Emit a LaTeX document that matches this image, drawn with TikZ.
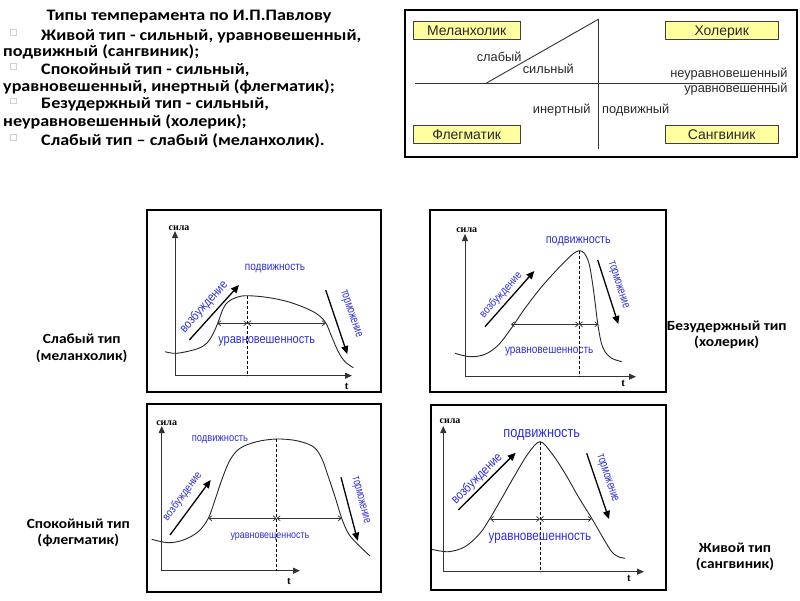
\documentclass[tikz,border=0pt]{standalone}
\usepackage{fontspec}
\setmainfont{Carlito}
\newfontfamily\calw{Carlito}[FakeStretch=1.13]
\newfontfamily\cals{Carlito}[FakeStretch=1.1]
\newfontfamily\arialf{Liberation Sans}
\newfontfamily\narrowf{Liberation Sans}[FakeStretch=0.85]
\newfontfamily\narrowt{Liberation Sans}[FakeStretch=0.7]
\newfontfamily\timesf{Liberation Serif}
\usetikzlibrary{arrows.meta}
\definecolor{lblue}{RGB}{45,45,220}
\definecolor{boxyellow}{RGB}{255,255,160}
\definecolor{lgray}{RGB}{40,40,40}
\tikzset{
  txt/.style={inner sep=0pt, anchor=base west, font=\calw\bfseries\fontsize{16}{18}\selectfont},
  bul/.style={draw=black!18, line width=0.6pt},
  side/.style={inner sep=0pt, align=center, font=\cals\bfseries\fontsize{14}{16.5}\selectfont},
  frame/.style={draw=black, line width=2pt},
  ybox/.style={draw=black!75, fill=boxyellow, line width=0.8pt, inner sep=0pt,
     text height=10pt, text depth=0pt, font=\arialf\fontsize{14}{16}\selectfont, text=lgray},
  axlab/.style={inner sep=0pt, font=\arialf\fontsize{12.8}{15}\selectfont, text=lgray},
  schema/.style={draw=black!80, line width=0.9pt},
  axis/.style={draw=black!80, line width=1pt, -{Triangle[length=7pt,width=6pt]}},
  curve/.style={draw=black!85, line width=0.9pt},
  dashline/.style={draw=black, line width=0.9pt, dash pattern=on 3pt off 2pt},
  dbl/.style={draw=black!80, line width=0.7pt, {Straight Barb[length=3pt,width=5pt]}-{Straight Barb[length=3pt,width=5pt]}},
  bigarr/.style={draw=black, line width=1.3pt, -{Triangle[length=8pt,width=7pt]}},
  blab/.style={inner sep=0pt, text=lblue},
  sila/.style={inner sep=0pt, font=\timesf\bfseries\fontsize{10}{10}\selectfont},
  tlab/.style={inner sep=0pt, font=\timesf\bfseries\fontsize{11}{11}\selectfont},
}
\begin{document}
\begin{tikzpicture}[x=1pt,y=-1pt]
\useasboundingbox (0,0) rectangle (800,600);

% ---------- top-left text ----------
\node[inner sep=0pt, anchor=base, font=\calw\bfseries\fontsize{16}{18}\selectfont] (title) at (189,20.7) {Типы темперамента по И.П.Павлову};
\node[txt] (l1) at (41,40) {Живой тип - сильный, уравновешенный,};
\node[txt] (l2) at (3,56.7) {подвижный (сангвиник);};
\node[txt] (l3) at (41,74) {Спокойный тип - сильный,};
\node[txt] (l4) at (3,91.7) {уравновешенный, инертный (флегматик);};
\node[txt] (l5) at (41,108.3) {Безудержный тип - сильный,};
\node[txt] (l6) at (3,126) {неуравновешенный (холерик);};
\node[txt] (l7) at (41,145) {Слабый тип – слабый (меланхолик).};
\foreach \b in {40,74,108.3,145}{
  \draw[bul] (10,\b-10.5) rectangle (16,\b-5);
}

% ---------- top-right scheme ----------
\draw[frame] (405,10) rectangle (797,157);
\node[ybox, minimum width=106.7pt, minimum height=17.6pt] (mel) at (466.7,30.5) {Меланхолик};
\node[ybox, minimum width=113.3pt, minimum height=17.6pt] (hol) at (721.7,30.5) {Холерик};
\node[ybox, minimum width=106.7pt, minimum height=18.3pt] (fleg) at (466.7,134.2) {Флегматик};
\node[ybox, minimum width=113.3pt, minimum height=18.3pt] (sang) at (721.7,134.2) {Сангвиник};
\coordinate (hl) at (415,83.3);
\coordinate (hr) at (776.7,83.3);
\coordinate (vt) at (598.3,19.3);
\coordinate (vb) at (598.3,149);
\coordinate (dg) at (486,83.3);
\draw[schema] (hl) -- (hr);
\draw[schema] (vt) -- (vb);
\draw[schema] (dg) -- (vt);
\node[axlab, anchor=east] (slab) at (521.7,57.3) {слабый};
\node[axlab] (silk) at (548.3,69) {сильный};
\node[axlab, anchor=east] (neur) at (787.7,74) {неуравновешенный};
\node[axlab, anchor=east] (urav) at (787.7,89) {уравновешенный};
\node[axlab] (inert) at (561.7,110) {инертный};
\node[axlab] (podv) at (635.7,110) {подвижный};

% ---------- side labels ----------
\node[side] (s1) at (81.7,348) {Слабый тип\\(меланхолик)};
\node[side] (s2) at (78.3,533) {Спокойный тип\\(флегматик)};
\node[side] (s3) at (726.7,335) {Безудержный тип\\(холерик)};
\node[side] (s4) at (735,556.7) {Живой тип\\(сангвиник)};

% ---------- graph 1 (weak) ----------
\draw[frame] (147,210) rectangle (381,391.5);
\coordinate (a1o) at (175,375.7);
\draw[axis] (a1o) -- (175,231);
\draw[axis] (a1o) -- (352,375.7);
\node[sila] (g1s) at (179,228) {сила};
\node[tlab] (g1t) at (346.7,386.7) {t};
\draw[curve] plot[smooth, tension=0.55] coordinates {(165,351.7) (176.7,353.3) (196.7,349) (206.7,343.3) (213.3,333.3) (218.3,321.7) (223.3,308.3) (228.3,301.7) (236.7,297.3) (246.7,295.7) (266.7,297.3) (290,302.3) (313.3,311.7) (325,321.7) (331.7,336.7) (338.3,351.7) (345,361.7) (353.3,367.7)};
\draw[dashline] (247.3,295.7) -- (247.3,375.7);
\draw[dbl] (217.3,323.3) -- (247.3,323.3);
\draw[dbl] (247.3,323.3) -- (325.7,323.3);
\draw[bigarr] (189.3,340) -- (239,285);
\draw[bigarr] (325.7,290) -- (347.3,354);
\node[blab, font=\narrowf\fontsize{11.8}{14}\selectfont] (g1p) at (275,268.3) {подвижность};
\node[blab, font=\narrowf\fontsize{12.9}{14}\selectfont] (g1u) at (266.7,341.7) {уравновешенность};
\node[blab, font=\narrowf\fontsize{12.6}{14}\selectfont, rotate=48] (g1v) at (204,307) {возбуждение};
\node[blab, font=\narrowt\fontsize{12.4}{14}\selectfont, rotate=-71.4] (g1m) at (350.7,314) {торможение};

% ---------- graph 2 (choleric) ----------
\draw[frame] (430,210) rectangle (666,391.5);
\coordinate (a2o) at (465,376.7);
\draw[axis] (a2o) -- (465,234);
\draw[axis] (a2o) -- (636,376.7);
\node[sila] (g2s) at (466.7,230) {сила};
\node[tlab] (g2t) at (623.3,383.3) {t};
\draw[curve] plot[smooth, tension=0.55] coordinates {(455,353.3) (470,356.7) (485,354.3) (498.3,345) (511.7,327.7) (525,308.3) (541.7,286.7) (558.3,268.3) (571.7,255) (579,250.7) (584.3,253.3) (589,263.3) (592.3,281.7) (595,301.7) (597.7,323.3) (601,341.7) (605,351.7) (611.7,358.3) (621.7,361.7)};
\draw[dashline] (579,250.7) -- (579,376.7);
\draw[dbl] (511,324.3) -- (579,324.3);
\draw[dbl] (579,324.3) -- (598.3,324.3);
\draw[bigarr] (485,326.7) -- (534.3,271);
\draw[bigarr] (597.7,260) -- (618.3,324);
\node[blab, font=\narrowf\fontsize{12.7}{14}\selectfont] (g2p) at (578.3,241.7) {подвижность};
\node[blab, font=\narrowf\fontsize{11.8}{14}\selectfont] (g2u) at (549.2,351.7) {уравновешенность};
\node[blab, font=\narrowf\fontsize{11.2}{14}\selectfont, rotate=48.5] (g2v) at (501,295) {возбуждение};
\node[blab, font=\narrowt\fontsize{12.2}{14}\selectfont, rotate=-72.2] (g2m) at (618,285) {торможение};

% ---------- graph 3 (phlegmatic) ----------
\draw[frame] (147,404) rectangle (381,591.5);
\coordinate (a3o) at (161.7,570.7);
\draw[axis] (a3o) -- (161.7,426);
\draw[axis] (a3o) -- (300,570.7);
\node[sila] (g3s) at (166.7,422.7) {сила};
\node[tlab] (g3t) at (289,581.7) {t};
\draw[curve] plot[smooth, tension=0.55] coordinates {(151.7,539.3) (168.3,542.7) (183.3,540) (198.3,531.7) (208.3,518.3) (215,500) (221.7,480) (230,460) (240,448.3) (256.7,441.7) (276.7,439) (296.7,440.7) (313.3,446.7) (321.7,458.3) (328.3,476.7) (335,496.7) (341.7,518.3) (348.3,533.3) (356.7,543.3) (370,556)};
\draw[dashline] (276.7,439) -- (276.7,570.7);
\draw[dbl] (208.3,518.3) -- (276.7,518.3);
\draw[dbl] (276.7,518.3) -- (341.7,518.3);
\draw[bigarr] (170,535) -- (210.7,480);
\draw[bigarr] (341,477.3) -- (357.7,540.7);
\node[blab, font=\narrowf\fontsize{11}{14}\selectfont] (g3p) at (220,440) {подвижность};
\node[blab, font=\narrowf\fontsize{10.5}{14}\selectfont] (g3u) at (270,536.7) {уравновещенность};
\node[blab, font=\narrowf\fontsize{11.2}{14}\selectfont, rotate=53.5] (g3v) at (182.5,496.5) {возбуждение};
\node[blab, font=\narrowt\fontsize{12}{14}\selectfont, rotate=-75.2] (g3m) at (360.5,500) {торможение};

% ---------- graph 4 (sanguine) ----------
\draw[frame] (431,405) rectangle (666,590);
\coordinate (a4o) at (443.3,571.7);
\draw[axis] (a4o) -- (443.3,426);
\draw[axis] (a4o) -- (644,571.7);
\node[sila] (g4s) at (450,420.7) {сила};
\node[tlab] (g4t) at (629,578.3) {t};
\draw[curve] plot[smooth, tension=0.55] coordinates {(431.7,549.3) (448.3,551.7) (465,546.7) (480,533.3) (490,518.3) (501.7,498.3) (515,475) (528.3,453.3) (540,441.7) (551.7,453.3) (565,473.3) (578.3,496.7) (591.7,518.3) (603.3,538.3) (611.7,551.7) (618.3,556.7) (625,558.3)};
\draw[dashline] (540,441.7) -- (540,571.7);
\draw[dbl] (490,519) -- (540,519);
\draw[dbl] (540,519) -- (591.7,519);
\draw[bigarr] (458.3,510) -- (515.7,452.7);
\draw[bigarr] (586.7,453.3) -- (609,519);
\node[blab, font=\narrowf\fontsize{15}{16}\selectfont] (g4p) at (541.7,435) {подвижность};
\node[blab, font=\narrowf\fontsize{13.7}{16}\selectfont] (g4u) at (540,538.3) {уравновешенность};
\node[blab, font=\narrowf\fontsize{12.8}{16}\selectfont, rotate=45] (g4v) at (477,479) {возбуждение};
\node[blab, font=\narrowt\fontsize{12.4}{16}\selectfont, rotate=-71.3] (g4m) at (607,478.3) {торможение};
\end{tikzpicture}
\end{document}
